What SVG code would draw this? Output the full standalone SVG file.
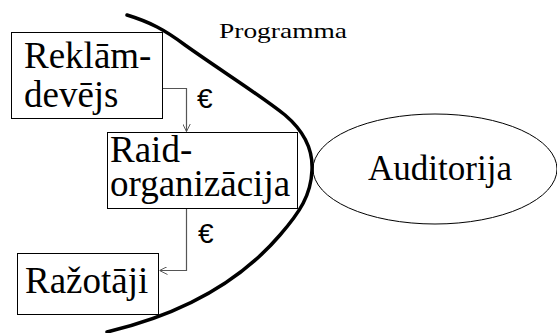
<svg xmlns="http://www.w3.org/2000/svg" width="557" height="333" viewBox="0 0 557 333">
<style>
text.t{font-family:'Liberation Serif','Times New Roman',Times,serif;fill:#000}
.box{fill:#fff;stroke:#000;stroke-width:1}
.eur{font-family:'Liberation Sans',Arial,sans-serif;font-size:28px;fill:#000}
.conn{fill:none;stroke:#555;stroke-width:1.2}
</style>
<defs>
<marker id="arr" viewBox="0 0 10 10" refX="10" refY="5" markerWidth="8" markerHeight="8" markerUnits="userSpaceOnUse" orient="auto">
<path d="M0,0 L10,5 L0,10" fill="none" stroke="#555" stroke-width="1.2"/>
</marker>
</defs>
<rect width="557" height="333" fill="#fff"/>
<g id="auditorija">
<ellipse cx="435" cy="169" rx="122" ry="55" fill="#fff" stroke="#000" stroke-width="1"/>
<text class="t" x="440" y="180" font-size="35" text-anchor="middle">Auditorija</text>
</g>
<g id="reklamdevejs">
<rect class="box" x="11.5" y="32.5" width="151" height="86"/>
<text class="t" font-size="37"><tspan x="24" y="68">Reklām-</tspan><tspan x="24" y="107">devējs</tspan></text>
</g>
<g id="raidorganizacija">
<rect class="box" x="107.5" y="132.5" width="190" height="76"/>
<text class="t" font-size="37"><tspan x="110" y="162">Raid-</tspan><tspan x="110" y="196">organizācija</tspan></text>
</g>
<g id="razotaji">
<rect class="box" x="17.5" y="253.5" width="141" height="61"/>
<text class="t" x="25" y="293" font-size="37">Ražotāji</text>
</g>
<g id="connectors">
<path class="conn" d="M163,88.5 H186.5 V131.5" marker-end="url(#arr)"/>
<path class="conn" d="M186.5,209 V270.5 H159.5" marker-end="url(#arr)"/>
<text class="eur" x="197" y="108">€</text>
<text class="eur" x="198" y="243">€</text>
</g>
<g id="programma">
<path d="M127,15 C150,22 165,30 185,45 C220,70 260,95 285,115 C305,132 313,150 312,170 C311,195 300,212 280,235 C250,270 200,310 107,332" fill="none" stroke="#000" stroke-width="3.5" stroke-linecap="round"/>
<text class="t" x="219" y="38" font-size="22" textLength="128" lengthAdjust="spacingAndGlyphs">Programma</text>
</g>
</svg>
